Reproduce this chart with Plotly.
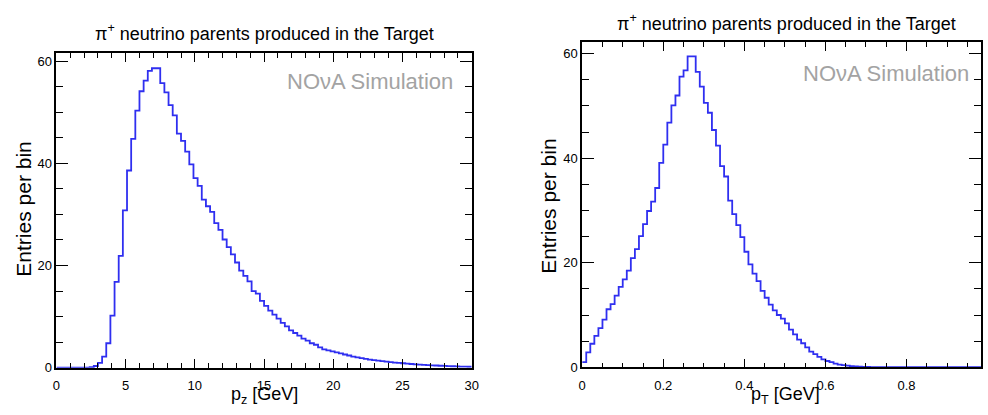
import numpy as np
import plotly.graph_objects as go

# Longitudinal momentum of pi+ neutrino parents: 100 bins over 0-30 GeV
pz_lo, pz_hi, pz_nbins = 0.0, 30.0, 100
pz_counts = [
    0, 0, 0, 0, 0, 0, 0, 0, 0.1, 0.35,
    0.96, 2.2, 4.8, 10.2, 16.8, 21.9, 30.8, 38.6, 44.8, 50.3,
    54.1, 56.2, 58.1, 58.6, 58.6, 55.7, 53.9, 51.4, 49.4, 45.8,
    44.4, 42.3, 39.8, 37.1, 35.6, 32.9, 31.6, 30.5, 28.3, 27.0,
    25.1, 23.6, 22.2, 20.6, 19.0, 18.0, 16.9, 15.0, 14.5, 13.1,
    12.1, 11.2, 10.4, 9.6, 8.8, 8.1, 7.3, 6.8, 6.3, 5.7,
    5.3, 4.8, 4.5, 4.0, 3.6, 3.4, 3.2, 3.0, 2.8, 2.6,
    2.4, 2.2, 2.05, 1.9, 1.75, 1.6, 1.5, 1.4, 1.3, 1.2,
    1.1, 1.0, 0.95, 0.88, 0.8, 0.74, 0.68, 0.62, 0.57, 0.52,
    0.48, 0.44, 0.40, 0.36, 0.33, 0.30, 0.27, 0.24, 0.22, 0.2,
]

# Transverse momentum of pi+ neutrino parents: 100 bins over 0-1 GeV
pt_lo, pt_hi, pt_nbins = 0.0, 1.0, 100
pt_counts = [
    1.0, 2.85, 4.5, 6.0, 7.5, 9.1, 11.1, 12.1, 13.7, 15.4,
    16.8, 18.5, 20.9, 22.6, 25.1, 27.4, 29.9, 31.7, 34.3, 39.1,
    42.6, 46.8, 50.1, 52.0, 55.6, 56.8, 59.5, 59.5, 56.5, 53.7,
    50.6, 48.7, 45.4, 42.4, 38.5, 36.5, 31.9, 29.3, 27.2, 24.9,
    22.1, 19.7, 17.9, 16.5, 14.6, 13.3, 12.0, 10.9, 10.0, 9.3,
    8.4, 7.2, 6.3, 5.3, 4.6, 3.8, 3.0, 2.5, 2.0, 1.5,
    1.2, 1.0, 0.7, 0.5, 0.4, 0.3, 0.2, 0.15, 0.1, 0.07,
    0.05, 0.03, 0.03, 0.03, 0.03, 0.03, 0.02, 0.02, 0.02, 0.02,
    0.02, 0.02, 0.02, 0.02, 0.02, 0.02, 0.01, 0.01, 0.01, 0.01,
    0.01, 0.01, 0.01, 0.01, 0.01, 0.01, 0.01, 0.01, 0.01, 0.01,
]

title_text = "π<sup>+</sup> neutrino parents produced in the Target"
label_text = "NOνA Simulation"
ytitle_text = "Entries per bin"
pz_title = "p<sub>z</sub> [GeV]"
pt_title = "p<sub>T</sub> [GeV]"

FONT = "Liberation Sans, Arial, Helvetica, sans-serif"
LINE_BLUE = "#2f2ff0"
W, H = 988, 415


def step_xy(lo, hi, counts):
    """Outline of a histogram as a step line over the bin edges."""
    edges = np.linspace(lo, hi, len(counts) + 1)
    xs = list(edges)
    ys = list(counts) + [counts[-1]]
    return xs, ys


fig = go.Figure()

x1, y1 = step_xy(pz_lo, pz_hi, pz_counts)
fig.add_trace(go.Scatter(x=x1, y=y1, mode="lines", line=dict(color=LINE_BLUE, width=1.8, shape="hv"),
                         xaxis="x", yaxis="y", showlegend=False, hoverinfo="skip"))
x2, y2 = step_xy(pt_lo, pt_hi, pt_counts)
fig.add_trace(go.Scatter(x=x2, y=y2, mode="lines", line=dict(color=LINE_BLUE, width=1.8, shape="hv"),
                         xaxis="x2", yaxis="y2", showlegend=False, hoverinfo="skip"))


def px(x):
    return x / W


def py(y):
    return 1 - y / H


def axis_common():
    return dict(
        showgrid=False, zeroline=False, showline=True, linecolor="black", linewidth=1.5,
        mirror="ticks", ticks="inside", tickcolor="black", tickwidth=1,
        tickfont=dict(family=FONT, size=13, color="black"),
    )


fig.update_layout(
    width=W, height=H, margin=dict(l=0, r=0, t=0, b=0),
    paper_bgcolor="white", plot_bgcolor="white", showlegend=False,
    xaxis=dict(domain=[px(53), px(473)], range=[pz_lo, pz_hi], anchor="y",
               tickvals=[0, 5, 10, 15, 20, 25, 30], ticklen=9, ticklabelstandoff=5,
               minor=dict(ticks="inside", ticklen=5, dtick=1, tickcolor="black", showgrid=False),
               **axis_common()),
    yaxis=dict(domain=[py(375), py(54.5)], range=[0, 61.5], anchor="x",
               tickvals=[0, 20, 40, 60], ticklen=12,
               minor=dict(ticks="inside", ticklen=7, dtick=5, tickcolor="black", showgrid=False),
               **axis_common()),
    xaxis2=dict(domain=[px(584.7), 1.0], range=[pt_lo, (988 - 584.7) / 410.0], anchor="y2",
                tickvals=[0, 0.2, 0.4, 0.6, 0.8], ticktext=["0", "0.2", "0.4", "0.6", "0.8"],
                ticklen=9, ticklabelstandoff=5,
                minor=dict(ticks="inside", ticklen=5, dtick=0.05, tickcolor="black", showgrid=False),
                **axis_common()),
    yaxis2=dict(domain=[py(374.5), py(43)], range=[0, 62.2], anchor="x2",
                tickvals=[0, 20, 40, 60], ticklen=12,
                minor=dict(ticks="inside", ticklen=7, dtick=5, tickcolor="black", showgrid=False),
                **axis_common()),
)

annos = [
    dict(text=title_text, x=px(263), y=py(33), font=dict(size=18)),
    dict(text=title_text, x=px(791), y=py(23), font=dict(size=18)),
    dict(text=label_text, x=px(456), y=py(83), xanchor="right", font=dict(size=22, color="#a3a3a3")),
    dict(text=label_text, x=px(978), y=py(75), xanchor="right", font=dict(size=22, color="#a3a3a3")),
    dict(text=ytitle_text, x=px(20), y=py(213), textangle=-90, font=dict(size=21)),
    dict(text=ytitle_text, x=px(551), y=py(210), textangle=-90, font=dict(size=21)),
    dict(text=pz_title, x=px(263), y=py(403), font=dict(size=18)),
    dict(text=pt_title, x=px(790), y=py(403), font=dict(size=18)),
]
for a in annos:
    f = dict(family=FONT, color="black")
    f.update(a.pop("font"))
    fig.add_annotation(xref="paper", yref="paper", showarrow=False, font=f,
                       xanchor=a.pop("xanchor", "center"), yanchor="middle", **a)

fig.write_html("out.html")
